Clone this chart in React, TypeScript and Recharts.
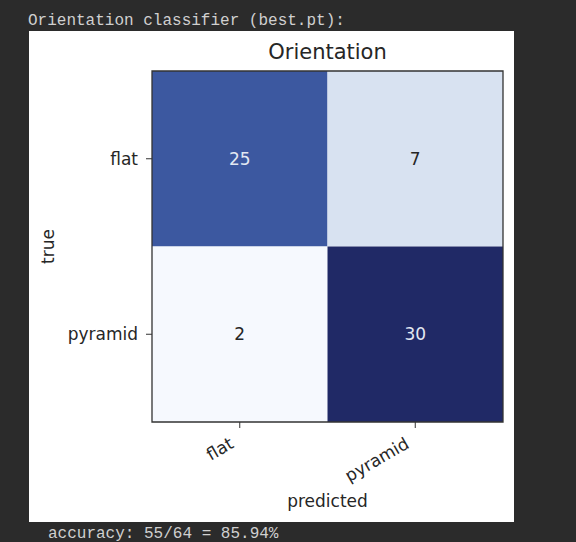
import React from 'react';
import { ScatterChart, Scatter, XAxis, YAxis, ReferenceArea } from 'recharts';

const categories = ['flat', 'pyramid'];
const rowFlat = [25, 7];
const rowPyramid = [2, 30];
const matrixRows = [rowFlat, rowPyramid];
const headerText = 'Orientation classifier (best.pt):';
const chartTitle = 'Orientation';
const xAxisTitle = 'predicted';
const yAxisTitle = 'true';

const allValues = matrixRows.flat();
const vMin = Math.min(...allValues);
const vMax = Math.max(...allValues);
const correct = matrixRows.reduce((s, r, i) => s + r[i], 0);
const total = allValues.reduce((s, v) => s + v, 0);
const accuracyText = `accuracy: ${correct}/${total} = ${((correct / total) * 100).toFixed(2)}%`;

// colormap stops (normalised value -> rgb)
const cmap: [number, number[]][] = [
  [0, [246, 249, 254]],
  [0.18, [216, 226, 241]],
  [0.82, [60, 88, 160]],
  [1, [32, 41, 102]],
];
function colorFor(v: number): string {
  const t = (v - vMin) / (vMax - vMin);
  for (let i = 1; i < cmap.length; i++) {
    const [t1, c1] = cmap[i];
    const [t0, c0] = cmap[i - 1];
    if (t <= t1) {
      const f = (t - t0) / (t1 - t0);
      const c = c0.map((a, k) => Math.round(a + (c1[k] - a) * f));
      return `rgb(${c[0]},${c[1]},${c[2]})`;
    }
  }
  const c = cmap[cmap.length - 1][1];
  return `rgb(${c[0]},${c[1]},${c[2]})`;
}

const cells = matrixRows.flatMap((row, r) =>
  row.map((value, c) => ({ x: c, y: r, value }))
);

const FONT = '"DejaVu Sans", sans-serif';
const MONO = '"Liberation Mono", "DejaVu Sans Mono", monospace';
const INK = '#262626';

const XTick = (props: any) => {
  const { x, y, payload } = props;
  const ax = x - 5;
  const ay = y + 17;
  return (
    <text
      x={ax}
      y={ay}
      textAnchor="end"
      transform={`rotate(-30 ${ax} ${ay})`}
      fontFamily={FONT}
      fontSize={17}
      fill={INK}
    >
      {categories[payload.value]}
    </text>
  );
};

const CellText = (props: any) => {
  const { cx, cy, payload } = props;
  const light = payload.value > (vMin + vMax) / 2;
  return (
    <text
      x={cx}
      y={cy}
      dy="0.36em"
      textAnchor="middle"
      fontFamily={FONT}
      fontSize={17}
      fill={light ? '#e3e8f2' : INK}
    >
      {payload.value}
    </text>
  );
};

export default function App() {
  return (
    <div
      style={{
        position: 'fixed',
        left: 0,
        top: 0,
        width: 576,
        height: 542,
        background: '#2b2b2b',
        overflow: 'hidden',
      }}
    >
      <div
        style={{
          position: 'absolute',
          left: 28,
          top: 13,
          fontFamily: MONO,
          fontSize: 16,
          lineHeight: '16px',
          color: '#d0d0d0',
          whiteSpace: 'pre',
        }}
      >
        {headerText}
      </div>
      <div
        style={{
          position: 'absolute',
          left: 29,
          top: 31,
          width: 485,
          height: 491,
          background: '#ffffff',
        }}
      >
        <div
          style={{
            position: 'absolute',
            left: 123,
            width: 351,
            top: 11,
            textAlign: 'center',
            fontFamily: FONT,
            fontSize: 21,
            lineHeight: '21px',
            color: INK,
          }}
        >
          {chartTitle}
        </div>
        <ScatterChart
          width={485}
          height={491}
          margin={{ top: 40, right: 11, bottom: 0, left: 0 }}
        >
          <XAxis
            type="number"
            dataKey="x"
            domain={[-0.5, 1.5]}
            ticks={[0, 1]}
            height={100}
            axisLine={false}
            tickLine={{ stroke: '#333', strokeWidth: 1 }}
            tickSize={6}
            tick={<XTick />}
            interval={0}
            allowDataOverflow
            label={{
              content: (p: any) => {
                const vb = p.viewBox;
                return (
                  <text
                    x={vb.x + vb.width / 2}
                    y={vb.y + 85}
                    textAnchor="middle"
                    fontFamily={FONT}
                    fontSize={17}
                    fill={INK}
                  >
                    {xAxisTitle}
                  </text>
                );
              },
            }}
          />
          <YAxis
            type="number"
            dataKey="y"
            domain={[-0.5, 1.5]}
            ticks={[0, 1]}
            reversed
            width={123}
            axisLine={false}
            tickLine={{ stroke: '#333', strokeWidth: 1 }}
            tickSize={6}
            tickMargin={8}
            interval={0}
            allowDataOverflow
            tickFormatter={(v: number) => categories[v]}
            tick={{ fontFamily: FONT, fontSize: 17, fill: INK }}
            label={{
              content: (p: any) => {
                const vb = p.viewBox;
                const lx = 25;
                const ly = vb.y + vb.height / 2;
                return (
                  <text
                    x={lx}
                    y={ly}
                    textAnchor="middle"
                    transform={`rotate(-90 ${lx} ${ly})`}
                    fontFamily={FONT}
                    fontSize={17}
                    fill={INK}
                  >
                    {yAxisTitle}
                  </text>
                );
              },
            }}
          />
          {cells.map((c) => (
            <ReferenceArea
              key={`${c.x}-${c.y}`}
              x1={c.x - 0.5}
              x2={c.x + 0.5}
              y1={c.y - 0.5}
              y2={c.y + 0.5}
              fill={colorFor(c.value)}
              fillOpacity={1}
              stroke="none"
            />
          ))}
          <ReferenceArea
            x1={-0.5}
            x2={1.5}
            y1={-0.5}
            y2={1.5}
            fill="none"
            fillOpacity={0}
            stroke="#333"
            strokeWidth={1.3}
          />
          <Scatter
            data={cells}
            isAnimationActive={false}
            shape={<CellText />}
          />
        </ScatterChart>
      </div>
      <div
        style={{
          position: 'absolute',
          left: 48,
          top: 526,
          fontFamily: MONO,
          fontSize: 16,
          lineHeight: '16px',
          color: '#d0d0d0',
          whiteSpace: 'pre',
        }}
      >
        {accuracyText}
      </div>
    </div>
  );
}
